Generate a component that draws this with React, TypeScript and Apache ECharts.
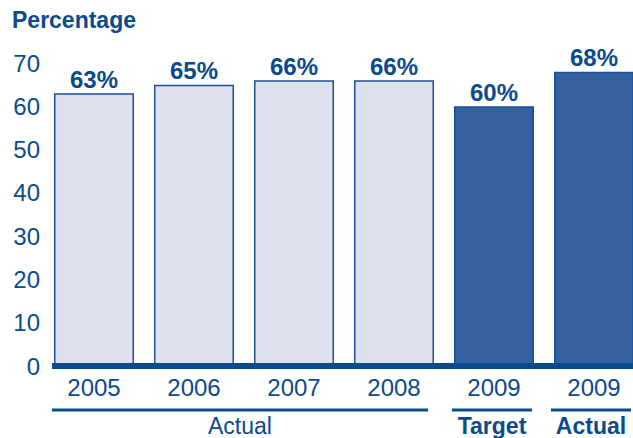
import React, { useEffect, useRef } from "react";
import * as echarts from "echarts";

const yearLabels = ["2005", "2006", "2007", "2008", "2009", "2009"];
const values = [63, 65, 66, 66, 60, 68];
const isHighlight = [false, false, false, false, true, true];
const yTicks = { min: 0, max: 70, interval: 10 };
const groupLabels = [
  { text: "Actual", bold: false },
  { text: "Target", bold: true },
  { text: "Actual", bold: true },
];

const TEXT = "#0b4a8e";
const FONT = "'Liberation Sans', Arial, Helvetica, sans-serif";

export default function App() {
  const ref = useRef<HTMLDivElement>(null);
  useEffect(() => {
    if (!ref.current) return;
    const chart = echarts.init(ref.current, undefined, { renderer: "svg" });
    const cats = yearLabels.map((y, i) => y + "|" + i);
    const groupX = [240, 492, 591];
    chart.setOption({
      animation: false,
      grid: { left: 44, width: 600, top: 63, height: 303, outerBoundsMode: "none", containLabel: false },
      xAxis: {
        type: "category",
        data: cats,
        axisLine: { show: false },
        axisTick: { show: false },
        axisLabel: {
          formatter: (v: string) => v.split("|")[0],
          color: TEXT,
          fontSize: 24,
          fontFamily: FONT,
          margin: 9,
        },
      },
      yAxis: {
        type: "value",
        min: yTicks.min,
        max: yTicks.max,
        interval: yTicks.interval,
        splitLine: { show: false },
        axisLine: { show: false },
        axisTick: { show: false },
        axisLabel: { color: TEXT, fontSize: 24, fontFamily: FONT, margin: 4 },
      },
      series: [
        {
          type: "bar",
          barWidth: 80,
          data: values.map((v, i) => ({
            value: v,
            itemStyle: isHighlight[i]
              ? { color: "#3561a1", borderColor: "#1a4f97", borderWidth: 1.5 }
              : { color: "#dde1ef", borderColor: "#1d5096", borderWidth: 1.5 },
          })),
          label: {
            show: true,
            position: "top",
            distance: 2,
            formatter: "{c}%",
            color: TEXT,
            fontSize: 24,
            fontWeight: "bold",
            fontFamily: FONT,
          },
        },
      ],
      graphic: [
        {
          type: "text",
          left: 12,
          top: 8,
          style: { text: "Percentage", fill: TEXT, fontSize: 23, fontWeight: "bold", fontFamily: FONT },
        },
        { type: "rect", shape: { x: 52, y: 363, width: 581, height: 6 }, style: { fill: "#0a4a8f" }, z: 10 },
        { type: "rect", shape: { x: 52, y: 408.5, width: 376, height: 3 }, style: { fill: "#0a4a8f" } },
        { type: "rect", shape: { x: 452, y: 408.5, width: 80, height: 3 }, style: { fill: "#0a4a8f" } },
        { type: "rect", shape: { x: 551, y: 408.5, width: 80, height: 3 }, style: { fill: "#0a4a8f" } },
        ...groupLabels.map((g, i) => ({
          type: "text",
          x: groupX[i],
          y: 426,
          style: {
            text: g.text,
            fill: TEXT,
            fontSize: 23,
            fontWeight: g.bold ? "bold" : "normal",
            fontFamily: FONT,
            align: "center",
            verticalAlign: "middle",
          },
        })),
      ],
    });
    return () => chart.dispose();
  }, []);
  return <div ref={ref} style={{ position: "absolute", left: 0, top: 0, width: 633, height: 438 }} />;
}
